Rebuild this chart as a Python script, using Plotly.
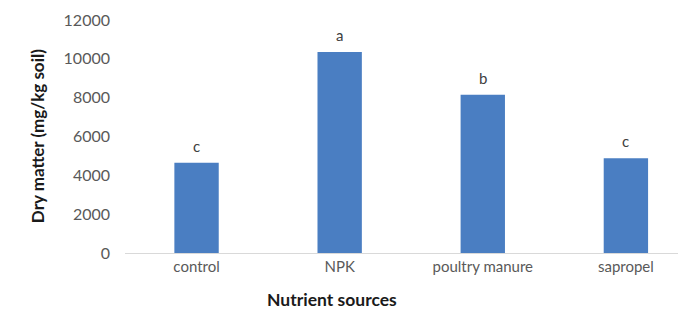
import plotly.graph_objects as go

categories = ["control", "NPK", "poultry manure", "sapropel"]
dry_matter = [4650, 10350, 8150, 4880]
letters = ["c", "a", "b", "c"]
y_ticks = [0, 2000, 4000, 6000, 8000, 10000, 12000]

FONT = "Lato"
fig = go.Figure()
fig.add_trace(go.Bar(
    x=categories, y=dry_matter, width=0.31,
    marker=dict(color="#4a7ec2", line=dict(width=0)),
    showlegend=False,
))
for c, v, l in zip(categories, dry_matter, letters):
    fig.add_annotation(x=c, y=v, text=l, showarrow=False, yshift=17,
                       font=dict(family=FONT, size=15, color="#404040"))

fig.add_annotation(xref="paper", yref="paper", x=0.369, y=-0.2, yanchor="middle",
                   text="<b>Nutrient sources</b>", showarrow=False,
                   font=dict(family=FONT, size=17.5, color="#1a1a1a"))
fig.add_annotation(xref="paper", yref="paper", x=-0.178, y=0.5,
                   text="<b>Dry matter (mg/kg soil)</b>", showarrow=False, textangle=-90,
                   font=dict(family=FONT, size=17, color="#1a1a1a"))

fig.update_layout(
    width=678, height=305,
    margin=dict(l=117, r=0, t=12, b=60),
    paper_bgcolor="white", plot_bgcolor="white",
    font=dict(family=FONT, size=15, color="#595959"),
    xaxis=dict(range=[-0.5, 3.42], showline=True, linecolor="#d9d9d9", linewidth=1,
               ticks="", showgrid=False, zeroline=False,
               tickfont=dict(size=15, color="#595959")),
    yaxis=dict(range=[0, 12000], tickvals=y_ticks, ticktext=[str(t) for t in y_ticks],
               showgrid=False, zeroline=False, showline=False, ticks="",
               ticklabelstandoff=14,
               tickfont=dict(size=16, color="#595959")),
)
fig.write_html("out.html")
